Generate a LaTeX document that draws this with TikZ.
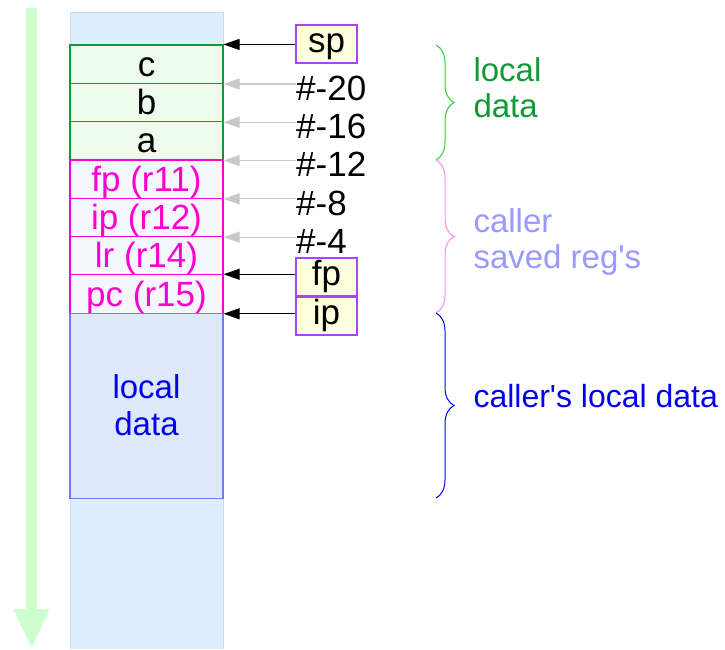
\documentclass[tikz,border=0pt]{standalone}
\usepackage{fontspec}
\setmainfont{Liberation Sans}
\usepackage{tikz}
\usetikzlibrary{arrows.meta,positioning,decorations.pathreplacing}
\usepackage{xcolor}
\definecolor{stackbg}{HTML}{DDEEFF}
\definecolor{stackedge}{HTML}{D0D8E0}
\definecolor{growth}{HTML}{CCFFCC}
\definecolor{locgreen}{HTML}{119933}
\definecolor{locfill}{HTML}{EEFCEE}
\definecolor{savmag}{HTML}{FF00CC}
\definecolor{savfill}{HTML}{F6F6FF}
\definecolor{callfill}{HTML}{DDE8FB}
\definecolor{calledge}{HTML}{7777EE}
\definecolor{callblue}{HTML}{0000EE}
\definecolor{regfill}{HTML}{FFFFDD}
\definecolor{regedge}{HTML}{AA44FF}
\definecolor{offgray}{HTML}{C8C8C8}
\definecolor{bracegreen}{HTML}{33CC33}
\definecolor{bracepink}{HTML}{FF88EE}
\definecolor{savlight}{HTML}{9999FF}

\begin{document}
\begin{tikzpicture}[x=1pt,y=-1pt,
  every node/.style={font=\fontsize{33}{36}\selectfont},
  big/.style={font=\fontsize{35}{38}\selectfont},
  cell/.style={big, minimum width=153pt, minimum height=38.3pt, inner sep=0pt,
    text height=27pt, text depth=3pt, line width=1.2pt},
  loccell/.style={cell, draw=locgreen, fill=locfill},
  savcell/.style={cell, draw=savmag, fill=savfill, text=savmag},
  regbox/.style={big, draw=regedge, fill=regfill, minimum width=61pt, minimum height=38pt,
    inner sep=0pt, text height=23pt, text depth=7pt, line width=1.2pt},
  ptr/.style={-{Triangle[length=16pt,width=11pt]}, line width=1.2pt},
  offs/.style={ptr, draw=offgray, fill=offgray},
  offlbl/.style={big, anchor=west, inner sep=0pt},
  grp/.style={decorate, decoration={brace, amplitude=18pt}, line width=1pt}]
  \useasboundingbox (0,0) rectangle (725,649);
  % stack column and growth direction
  \fill[stackbg] (70,12) rectangle (223,649);
  \draw[stackedge] (70,649) -- (70,12) -- (223,12) -- (223,649);
  \draw[growth, line width=11pt, -{Triangle[length=40pt,width=33pt]}] (31.5,8) -- (31.5,649);

  % frame cells
  \node[loccell] (cc) at (146.5,64.2) {c};
  \node[loccell] (cb) at (146.5,102.5) {b};
  \node[loccell] (ca) at (146.5,140.8) {a};
  \node[savcell] (cfp) at (146.5,179.1) {fp (r11)};
  \node[savcell] (cip) at (146.5,217.4) {ip (r12)};
  \node[savcell] (clr) at (146.5,255.7) {lr (r14)};
  \node[savcell] (cpc) at (146.5,294) {pc (r15)};
  \node[cell, font=\fontsize{33}{37}\selectfont, minimum height=185pt, text height=, text depth=,
    draw=calledge, fill=callfill, text=callblue, align=center]
    (cloc) at (146.5,405.6) {local\\data};

  % registers
  \node[regbox] (spreg) at (326.5,44) {sp};
  \node[regbox] (fpreg) at (326.5,277) {fp};
  \node[regbox] (ipreg) at (326.5,316) {ip};
  \draw[ptr] (spreg.west |- cc.north east) -- (cc.north east);
  \draw[ptr] (fpreg.west |- cpc.north east) -- (cpc.north east);
  \draw[ptr] (ipreg.west |- cpc.south east) -- (cpc.south east);

  % offsets from fp
  \node[offlbl] (m20) at (296,88) {\#-20};
  \node[offlbl] (m16) at (296,126) {\#-16};
  \node[offlbl] (m12) at (296,164) {\#-12};
  \node[offlbl] (m8) at (296,203) {\#-8};
  \node[offlbl] (m4) at (296,241) {\#-4};
  \draw[offs] (m20.west |- cc.south east) -- (cc.south east);
  \draw[offs] (m16.west |- cb.south east) -- (cb.south east);
  \draw[offs] (m12.west |- ca.south east) -- (ca.south east);
  \draw[offs] (m8.west |- cfp.south east) -- (cfp.south east);
  \draw[offs] (m4.west |- cip.south east) -- (cip.south east);

  % groups
  \draw[grp, bracegreen] (436,45) -- (436,160);
  \draw[grp, bracepink] (436,160) -- (436,313);
  \draw[grp, callblue] (436,313) -- (436,498);
  \node[anchor=west, align=left, text=locgreen] (loclbl) at (470,88) {local\\data};
  \node[anchor=west, align=left, text=savlight] (savlbl) at (470,242) {caller\\saved reg\textquotesingle s};
  \node[anchor=west, text=callblue, font=\fontsize{32}{36}\selectfont] (calllbl) at (470,396)
    {caller\textquotesingle s local data};
\end{tikzpicture}
\end{document}
